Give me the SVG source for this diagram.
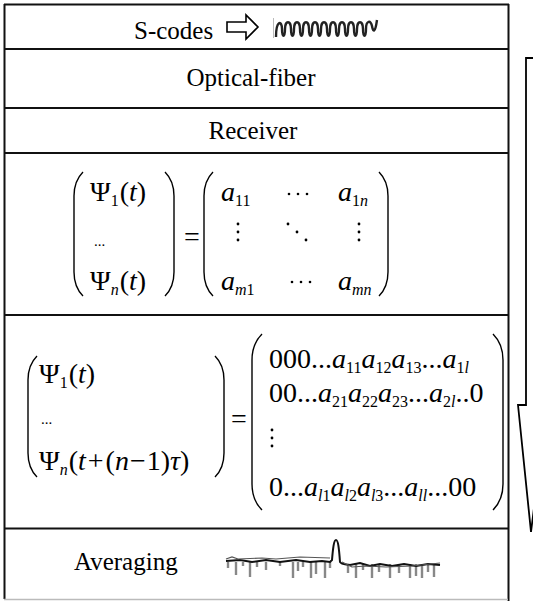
<svg xmlns="http://www.w3.org/2000/svg" width="533" height="601" viewBox="0 0 533 601" font-family="Liberation Serif, Times New Roman, serif">
<style>
.t{font-family:"Liberation Serif","Times New Roman",serif;fill:#000}
.lbl{font-size:25px}
.m{font-size:28px}
.s{font-size:16px}
.i{font-style:italic}
.n{font-style:normal}
.br{fill:none;stroke:#000;stroke-width:1.4}
.div{stroke:#111;stroke-width:2}
.dot{fill:#000}
</style>
<rect width="533" height="601" fill="#fff"/>
<g id="frame">
<line x1="4" y1="4.5" x2="509" y2="4.5" class="div"/>
<line x1="4.5" y1="4" x2="4.5" y2="599" class="div"/>
<line x1="508.5" y1="4" x2="508.5" y2="601" class="div"/>
<line x1="4" y1="599.5" x2="508" y2="599.5" stroke="#bbb" stroke-width="1.5"/>
<line x1="4" y1="49" x2="508" y2="49" class="div"/>
<line x1="4" y1="108" x2="508" y2="108" class="div"/>
<line x1="4" y1="153" x2="508" y2="153" class="div"/>
<line x1="4" y1="315" x2="508" y2="315" class="div"/>
<line x1="4" y1="528.5" x2="508" y2="528.5" class="div"/>
</g>
<g id="scodes">
<text class="t lbl" x="134" y="39">S-codes</text>
<path d="M227 22 H246 V15 L258 27 L246 39 V32 H227 Z" fill="none" stroke="#000" stroke-width="1.6"/>
<line x1="273.5" y1="18" x2="273.5" y2="38" stroke="#bbb" stroke-width="1"/>
<path d="M276 37 C276 20 282 20 282 29 C282 38 285 38 285 29 C285 20 291 20 291 29 C291 38 294 38 294 29 C294 20 300 20 300 29 C300 38 303 38 303 29 C303 20 309 20 309 29 C309 38 312 38 312 29 C312 20 318 20 318 29 C318 38 321 38 321 29 C321 20 327 20 327 29 C327 38 330 38 330 29 C330 20 336 20 336 29 C336 38 339 38 339 29 C339 20 345 20 345 29 C345 38 348 38 348 29 C348 20 354 20 354 29 C354 38 357 38 357 29 C357 20 363 20 363 29 C363 38 366 38 366 29 C366 20 371 20 372 26 C373 32 375 34 377 20" fill="none" stroke="#222" stroke-width="2.4"/>
</g>
<g id="fiber">
<text class="t lbl" x="251" y="86" text-anchor="middle">Optical-fiber</text>
</g>
<g id="receiver">
<text class="t lbl" x="253" y="139" text-anchor="middle">Receiver</text>
</g>
<g id="matrix1">
<path class="br" d="M83 172 C77 178 74 186 74 196 V272 C74 282 77 290 83 296"/>
<path class="br" d="M165 172 C171 178 174 186 174 196 V272 C174 282 171 290 165 296"/>
<path class="br" d="M213 172 C207 178 204 186 204 196 V272 C204 282 207 290 213 296"/>
<path class="br" d="M379 172 C385 178 388 186 388 196 V272 C388 282 385 290 379 296"/>
<text class="t m" x="90" y="201">Ψ<tspan class="s" dy="5">1</tspan><tspan dy="-5" dx="1">(</tspan><tspan class="i">t</tspan>)</text>
<text class="t" x="94" y="246" font-size="15">...</text>
<text class="t m" x="90" y="290">Ψ<tspan class="s i" dy="5">n</tspan><tspan dy="-5" dx="1">(</tspan><tspan class="i">t</tspan>)</text>
<text class="t m" x="184" y="246">=</text>
<text class="t m i" x="221" y="201">a<tspan class="s n" dy="5">11</tspan></text>
<text class="t m i" x="338" y="201">a<tspan class="s" dy="5"><tspan class="n">1</tspan>n</tspan></text>
<text class="t m i" x="221" y="290">a<tspan class="s" dy="5">m<tspan class="n">1</tspan></tspan></text>
<text class="t m i" x="338" y="290">a<tspan class="s" dy="5">mn</tspan></text>
<g class="dot">
<circle cx="289" cy="194" r="1.3"/><circle cx="298" cy="194" r="1.3"/><circle cx="307" cy="194" r="1.3"/>
<circle cx="292" cy="282" r="1.3"/><circle cx="301" cy="282" r="1.3"/><circle cx="310" cy="282" r="1.3"/>
<circle cx="238" cy="224" r="1.4"/><circle cx="238" cy="232" r="1.4"/><circle cx="238" cy="240" r="1.4"/>
<circle cx="359" cy="224" r="1.4"/><circle cx="359" cy="232" r="1.4"/><circle cx="359" cy="240" r="1.4"/>
<circle cx="288" cy="224" r="1.4"/><circle cx="297" cy="232" r="1.4"/><circle cx="306" cy="240" r="1.4"/>
</g>
</g>
<g id="matrix2">
<path class="br" d="M37 356 C31 362 28 370 28 380 V453 C28 463 31 471 37 477"/>
<path class="br" d="M215 356 C221 362 224 370 224 380 V453 C224 463 221 471 215 477"/>
<path class="br" d="M262 334 C256 340 252 348 252 360 V484 C252 496 256 504 262 510"/>
<path class="br" d="M493 334 C499 340 503 348 503 360 V484 C503 496 499 504 493 510"/>
<text class="t m" x="39" y="383">Ψ<tspan class="s" dy="5">1</tspan><tspan dy="-5" dx="1">(</tspan><tspan class="i">t</tspan>)</text>
<text class="t" x="41" y="424" font-size="15">...</text>
<text class="t m" x="39" y="470">Ψ<tspan class="s i" dy="5">n</tspan><tspan dy="-5" dx="1">(</tspan><tspan class="i">t</tspan><tspan dx="2">+</tspan><tspan dx="2">(</tspan><tspan class="i">n</tspan><tspan dx="1">−</tspan><tspan dx="1">1)</tspan><tspan class="i">τ</tspan>)</text>
<text class="t m" x="231" y="428">=</text>
<text class="t m" x="269" y="368">000...<tspan class="i">a</tspan><tspan class="s" dy="5">11</tspan><tspan class="i" dy="-5">a</tspan><tspan class="s" dy="5">12</tspan><tspan class="i" dy="-5">a</tspan><tspan class="s" dy="5">13</tspan><tspan dy="-5">...</tspan><tspan class="i">a</tspan><tspan class="s" dy="5">1<tspan class="i">l</tspan></tspan></text>
<text class="t m" x="269" y="402">00...<tspan class="i">a</tspan><tspan class="s" dy="5">21</tspan><tspan class="i" dy="-5">a</tspan><tspan class="s" dy="5">22</tspan><tspan class="i" dy="-5">a</tspan><tspan class="s" dy="5">23</tspan><tspan dy="-5">...</tspan><tspan class="i">a</tspan><tspan class="s" dy="5">2<tspan class="i">l</tspan></tspan><tspan dy="-5">..0</tspan></text>
<g class="dot"><circle cx="272" cy="430" r="1.4"/><circle cx="272" cy="438" r="1.4"/><circle cx="272" cy="446" r="1.4"/></g>
<text class="t m" x="269" y="496">0...<tspan class="i">a</tspan><tspan class="s" dy="5"><tspan class="i">l</tspan>1</tspan><tspan class="i" dy="-5">a</tspan><tspan class="s" dy="5"><tspan class="i">l</tspan>2</tspan><tspan class="i" dy="-5">a</tspan><tspan class="s" dy="5"><tspan class="i">l</tspan>3</tspan><tspan dy="-5">...</tspan><tspan class="i">a</tspan><tspan class="s i" dy="5">ll</tspan><tspan dy="-5">...00</tspan></text>
</g>
<g id="averaging">
<text class="t lbl" x="74" y="570">Averaging</text>
<g stroke="#888" stroke-width="2.4">
<line x1="228" y1="562" x2="228" y2="568"/><line x1="236" y1="562" x2="236" y2="575"/><line x1="243" y1="562" x2="243" y2="566"/>
<line x1="250" y1="562" x2="250" y2="577"/><line x1="257" y1="562" x2="257" y2="567"/><line x1="266" y1="562" x2="266" y2="570"/>
<line x1="280" y1="562" x2="280" y2="566"/><line x1="293" y1="562" x2="293" y2="578"/><line x1="298" y1="562" x2="298" y2="571"/>
<line x1="303" y1="562" x2="303" y2="567"/><line x1="311" y1="562" x2="311" y2="578"/><line x1="316" y1="562" x2="316" y2="574"/>
<line x1="325" y1="562" x2="325" y2="578"/><line x1="330" y1="562" x2="330" y2="568"/>
<line x1="348" y1="564" x2="348" y2="573"/><line x1="356" y1="564" x2="356" y2="578"/><line x1="363" y1="564" x2="363" y2="570"/>
<line x1="372" y1="564" x2="372" y2="578"/><line x1="379" y1="564" x2="379" y2="572"/><line x1="390" y1="564" x2="390" y2="578"/>
<line x1="399" y1="564" x2="399" y2="573"/><line x1="410" y1="564" x2="410" y2="578"/><line x1="416" y1="564" x2="416" y2="576"/>
<line x1="422" y1="564" x2="422" y2="578"/><line x1="428" y1="564" x2="428" y2="572"/><line x1="434" y1="564" x2="434" y2="577"/>
</g>
<path d="M226 561 L240 560 L252 562 L266 560 L280 562 L296 560 L310 562 L322 561 L330 562 L332 560 C333 548 334 540 336 540 C338 540 339 548 340 562 C342 565 346 564 350 565 L360 563 L370 566 L380 564 L392 566 L404 564 L416 566 L428 564 L440 565" fill="none" stroke="#111" stroke-width="2"/>
<path d="M226 559 L232 557 L238 559 L262 558 L276 559 L300 557 L330 558 M342 562 L352 567 L366 566 L386 567 L412 566 L440 563" fill="none" stroke="#555" stroke-width="1.2"/>
</g>
<g id="flow-arrow">
<path d="M545 58 H526 V405 H518 L531 532 L545 420" fill="none" stroke="#000" stroke-width="1.8"/>
</g>
</svg>
